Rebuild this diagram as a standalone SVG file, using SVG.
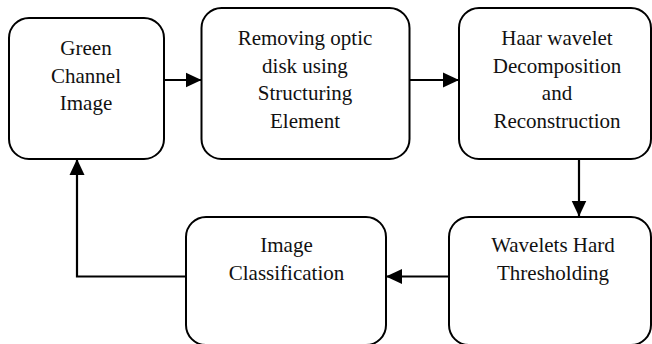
<svg xmlns="http://www.w3.org/2000/svg" width="652" height="344" viewBox="0 0 652 344">
<style>
.box{fill:#fff;stroke:#000;stroke-width:2}
.lbl{font-family:"Liberation Serif","Times New Roman",serif;font-size:21px;fill:#111;text-anchor:middle}
.conn{fill:none;stroke:#000;stroke-width:2.2}
</style>
<defs>
<marker id="arr" markerUnits="userSpaceOnUse" markerWidth="16" markerHeight="16" refX="16" refY="8" orient="auto" viewBox="0 0 16 16">
<path d="M0,0.5 L16,8 L0,15.5 Z" fill="#000"/>
</marker>
</defs>
<rect width="652" height="344" fill="#fff"/>
<g id="node-green">
<rect class="box" x="9" y="18" width="155" height="141" rx="20"/>
<text class="lbl" x="86" y="55">Green</text>
<text class="lbl" x="86" y="82.5">Channel</text>
<text class="lbl" x="86" y="110">Image</text>
</g>
<g id="node-removing">
<rect class="box" x="201.5" y="8" width="208" height="151" rx="20"/>
<text class="lbl" x="305" y="45">Removing optic</text>
<text class="lbl" x="305" y="72.5">disk using</text>
<text class="lbl" x="305" y="100">Structuring</text>
<text class="lbl" x="305" y="127.5">Element</text>
</g>
<g id="node-haar">
<rect class="box" x="459" y="8" width="192" height="151" rx="20"/>
<text class="lbl" x="557" y="45">Haar wavelet</text>
<text class="lbl" x="557" y="72.5">Decomposition</text>
<text class="lbl" x="557" y="100">and</text>
<text class="lbl" x="557" y="127.5">Reconstruction</text>
</g>
<g id="node-threshold">
<rect class="box" x="449" y="217" width="202" height="128" rx="20"/>
<text class="lbl" x="553" y="251.5">Wavelets Hard</text>
<text class="lbl" x="553" y="279.5">Thresholding</text>
</g>
<g id="node-classification">
<rect class="box" x="186" y="217" width="200" height="128" rx="20"/>
<text class="lbl" x="286.5" y="251.5">Image</text>
<text class="lbl" x="286.5" y="279.5">Classification</text>
</g>
<g id="connectors">
<line class="conn" x1="164" y1="80" x2="201.5" y2="80" marker-end="url(#arr)"/>
<line class="conn" x1="409.5" y1="80" x2="459" y2="80" marker-end="url(#arr)"/>
<line class="conn" x1="579" y1="159" x2="579" y2="216.5" marker-end="url(#arr)"/>
<line class="conn" x1="449" y1="276.5" x2="386" y2="276.5" marker-end="url(#arr)"/>
<polyline class="conn" points="186,276.5 77,276.5 77,159" marker-end="url(#arr)"/>
</g>
</svg>
